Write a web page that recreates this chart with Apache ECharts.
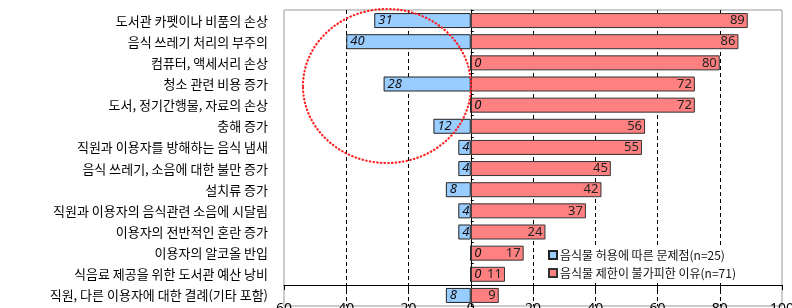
<!DOCTYPE html>
<html>
<head>
<meta charset="utf-8">
<script src="https://cdn.jsdelivr.net/npm/echarts@6/dist/echarts.min.js"></script>
<style>
  html, body { margin: 0; padding: 0; background: #fff; }
  #chart { width: 792px; height: 308px; }
</style>
</head>
<body>
<div id="chart"></div>
<script>
// 항목 (위에서 아래 순서)
var categories = [
    '도서관 카펫이나 비품의 손상',
    '음식 쓰레기 처리의 부주의',
    '컴퓨터, 액세서리 손상',
    '청소 관련 비용 증가',
    '도서, 정기간행물, 자료의 손상',
    '충해 증가',
    '직원과 이용자를 방해하는 음식 냄새',
    '음식 쓰레기, 소음에 대한 불만 증가',
    '설치류 증가',
    '직원과 이용자의 음식관련 소음에 시달림',
    '이용자의 전반적인 혼란 증가',
    '이용자의 알코올 반입',
    '식음료 제공을 위한 도서관 예산 낭비',
    '직원, 다른 이용자에 대한 결례(기타 포함)'
];
// 음식물 허용에 따른 문제점 (n=25) - 왼쪽
var allowProblems = [31, 40, 0, 28, 0, 12, 4, 4, 8, 4, 4, 0, 0, 8];
// 음식물 제한이 불가피한 이유 (n=71) - 오른쪽
var limitReasons = [89, 86, 80, 72, 72, 56, 55, 45, 42, 37, 24, 17, 11, 9];
var seriesNames = ['음식물 허용에 따른 문제점(n=25)', '음식물 제한이 불가피한 이유(n=71)'];

var kr = '"Noto Sans CJK KR", sans-serif';

var myChart = echarts.init(document.getElementById('chart'));
myChart.setOption({
    animation: false,
    backgroundColor: '#fff',
    grid: {
        left: 284, right: 10, top: 10, height: 296,
        outerBoundsMode: 'none',
        show: true, borderColor: '#999', borderWidth: 1
    },
    legend: {
        orient: 'vertical',
        left: 544, top: 247,
        icon: 'rect',
        itemWidth: 8, itemHeight: 8, itemGap: 6,
        selectedMode: false,
        backgroundColor: '#fff',
        padding: [2, 4],
        textStyle: { fontFamily: kr, fontSize: 12, color: '#111', padding: [0, 0, 0, -2] },
        data: seriesNames
    },
    xAxis: {
        type: 'value',
        min: -60, max: 100, interval: 20,
        offset: -21,
        axisLine: { show: true, lineStyle: { color: '#000', width: 1 } },
        axisTick: { show: true, length: 5, lineStyle: { color: '#000' } },
        axisLabel: {
            margin: 17, fontSize: 14, color: '#000', fontFamily: 'Noto Sans',
            formatter: function (v) { return Math.abs(v); }
        },
        splitLine: {
            show: true, showMinLine: false, showMaxLine: false,
            lineStyle: { color: '#000', type: [4, 3], width: 1 }
        }
    },
    yAxis: [{
        type: 'category',
        data: categories,
        inverse: true,
        axisLine: { show: false, onZero: false },
        axisTick: { show: false },
        axisLabel: { margin: 16, fontSize: 13, color: '#000', fontFamily: kr }
    }, {
        type: 'category',
        data: categories,
        inverse: true,
        position: 'right',
        axisLine: { show: true, onZero: true, lineStyle: { color: '#000', width: 1 } },
        axisTick: { show: true, inside: false, length: 3, lineStyle: { color: '#000' } },
        axisLabel: { show: false }
    }],
    series: [{
        name: seriesNames[0],
        type: 'bar',
        data: allowProblems.map(function (v) { return -v; }),
        barWidth: 15,
        barGap: '-100%',
        itemStyle: { color: '#99CCFF', borderColor: '#222', borderWidth: 1 },
        label: {
            show: true, position: 'insideLeft', distance: 4,
            fontSize: 13, fontStyle: 'italic', color: '#111', fontFamily: 'Noto Sans',
            formatter: function (p) { return Math.abs(p.value); }
        },
        z: 3
    }, {
        name: seriesNames[1],
        type: 'bar',
        data: limitReasons,
        barWidth: 15,
        barGap: '-100%',
        itemStyle: { color: '#FF8080', borderColor: '#333', borderWidth: 1 },
        label: {
            show: true, position: 'insideRight', distance: 3,
            fontSize: 13, color: '#222', fontFamily: 'Noto Sans'
        },
        z: 2
    }],
    graphic: [{
        type: 'ellipse',
        shape: { cx: 387, cy: 86, rx: 84, ry: 77 },
        style: {
            fill: null, stroke: '#FF2020', lineWidth: 2.2,
            lineDash: [0.5, 3.2], lineCap: 'round'
        },
        z: 100
    }]
});
</script>
</body>
</html>
